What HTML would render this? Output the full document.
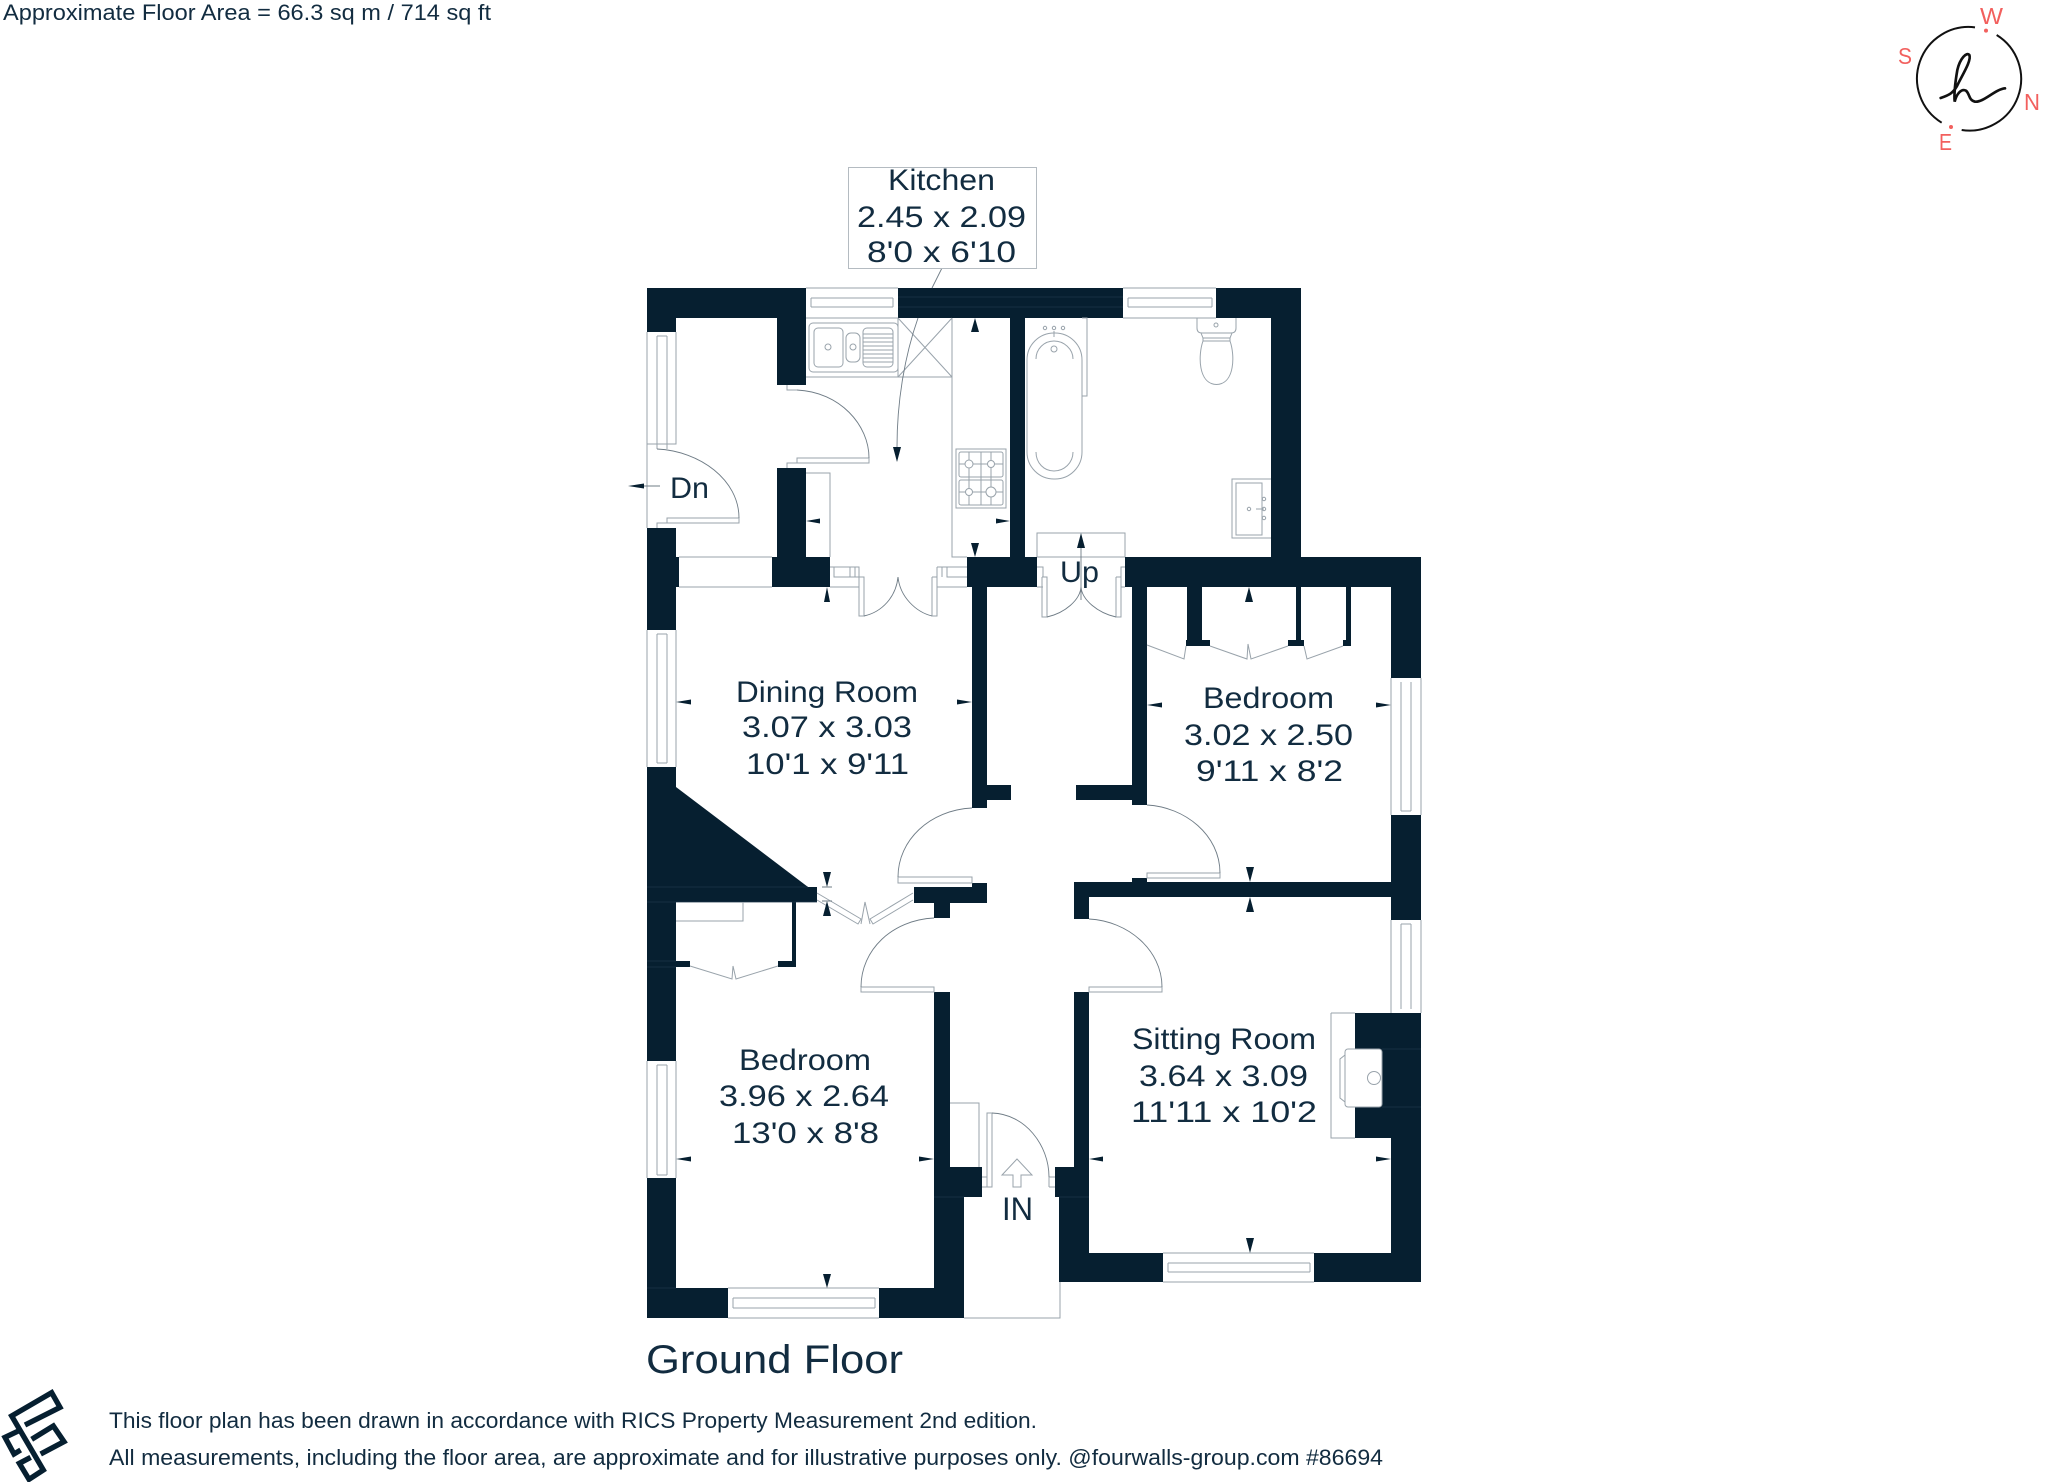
<!DOCTYPE html>
<html><head><meta charset="utf-8"><style>
html,body{margin:0;padding:0;background:#fff}
svg{display:block}
text{font-family:"Liberation Sans",sans-serif;fill:#122c40}
.w{fill:#061f30}
.l{fill:none;stroke:#99a3ab;stroke-width:1}
.d{fill:none;stroke:#6f7c86;stroke-width:.9}
.a{fill:#061f30}
.r{font-size:30px}
</style></head><body>
<svg width="2048" height="1482" viewBox="0 0 2048 1482" xmlns="http://www.w3.org/2000/svg">
<rect width="2048" height="1482" fill="#fff"/>

<!-- walls -->
<g class="w">
<rect x="647" y="288" width="159" height="30"/><rect x="647" y="318" width="29" height="14"/>
<rect x="777" y="318" width="29" height="67"/>
<rect x="898" y="288" width="225" height="30"/>
<rect x="1216" y="288" width="85" height="30"/>
<rect x="1271" y="318" width="30" height="239"/>
<rect x="1010" y="318" width="15" height="239"/>
<rect x="777" y="468" width="29" height="89"/>
<rect x="772" y="557" width="58" height="30"/>
<rect x="967" y="557" width="70" height="30"/>
<rect x="1125" y="557" width="296" height="30"/>
<rect x="647" y="528" width="29" height="29"/><rect x="647" y="557" width="32" height="30"/><rect x="647" y="587" width="29" height="43"/>
<polygon points="647,767 676,767 676,787 808,887 817,887 817,902 647,902"/>
<rect x="647" y="902" width="29" height="159"/>
<rect x="647" y="1178" width="29" height="112"/>
<rect x="647" y="1288" width="81" height="30"/>
<rect x="879" y="1288" width="85" height="30"/>
<rect x="934" y="992" width="16" height="175"/>
<rect x="934" y="1167" width="48" height="30"/>
<rect x="934" y="1197" width="30" height="92"/>
<rect x="972" y="587" width="15" height="221"/>
<rect x="987" y="785" width="24" height="15"/>
<rect x="1076" y="785" width="56" height="15"/>
<rect x="1132" y="587" width="15" height="218"/>
<rect x="1187" y="587" width="15" height="53"/><rect x="1186" y="640" width="24" height="6"/>
<rect x="1296" y="587" width="5" height="53"/><rect x="1288" y="640" width="16" height="6"/>
<rect x="1346" y="587" width="5" height="53"/><rect x="1343" y="640" width="8" height="6"/>
<rect x="1391" y="587" width="30" height="91"/>
<rect x="1391" y="815" width="30" height="105"/>
<rect x="1074" y="882" width="347" height="15"/>
<rect x="1132" y="878" width="15" height="4"/>
<rect x="1074" y="897" width="15" height="22"/>
<rect x="914" y="887" width="73" height="16"/><rect x="972" y="883" width="15" height="4"/>
<rect x="934" y="903" width="16" height="15"/>
<rect x="792" y="902" width="4" height="60"/><rect x="778" y="961" width="18" height="6"/>
<rect x="676" y="961" width="14" height="6"/>
<rect x="1074" y="992" width="15" height="175"/>
<rect x="1055" y="1167" width="34" height="30"/>
<rect x="1059" y="1197" width="30" height="85"/>
<rect x="1059" y="1253" width="104" height="29"/>
<rect x="1314" y="1253" width="107" height="29"/>
<rect x="1391" y="1138" width="30" height="115"/>
<rect x="1355" y="1013" width="66" height="125"/>
</g>
<path d="M898 297H1123M898 307H1123M647 887H808M647 902H817M647 961H676M647 967H676M934 1197H964M647 1288H676M1059 1197H1089M1382 1049H1421M1382 1107H1421" fill="none" stroke="#1c3648" stroke-width=".8"/>

<!-- windows -->
<g class="l">
<path d="M806 288H898M806 318H898M811 298H893M811 307H893M811 298V307M893 298V307"/>
<path d="M1123 288H1216M1123 318H1216M1128 298H1212M1128 307H1212M1128 298V307M1212 298V307"/>
<path d="M647 332V444H676V332M657 336V449M667 336V449M657 336H667M657 444H667"/>
<path d="M679 557H772M679 587H772"/>
<path d="M647 630V767M676 630V767M657 634V763M667 634V763M657 634H667M657 763H667"/>
<path d="M647 1061V1178M676 1061V1178M657 1065V1175M667 1065V1175M657 1065H667M657 1175H667"/>
<path d="M728 1288H879M728 1318H879M733 1298H875M733 1308H875M733 1298V1308M875 1298V1308"/>
<path d="M1163 1253H1314M1163 1282H1314M1168 1263H1310M1168 1272H1310M1168 1263V1272M1310 1263V1272"/>
<path d="M1391 678V815M1421 678V815M1401 682V811M1411 682V811M1401 811H1411"/>
<path d="M1391 920V1013M1421 920V1013M1401 924V1009M1411 924V1009M1401 924H1411"/>
<path d="M647 444V528"/>
</g>

<!-- kitchen -->
<g class="l">
<path d="M806 377H952V318M898 318V377M898 318L952 377M898 377L952 318"/>
<path d="M952 377V557H967"/>
<rect x="809" y="323" width="89" height="49" rx="4"/>
<rect x="814" y="328" width="29" height="39" rx="4"/>
<rect x="846" y="333" width="14" height="29" rx="5"/>
<rect x="863" y="328" width="30" height="39" rx="4"/>
<path d="M863 334H893M863 338H893M863 342H893M863 346H893M863 350H893M863 354H893M863 358H893M863 362H893"/>
<circle cx="828" cy="347" r="3"/><circle cx="853" cy="347" r="3"/>
<rect x="956" y="449" width="50" height="59"/>
<rect x="959" y="452" width="44" height="25" rx="2"/>
<rect x="959" y="480" width="44" height="25" rx="2"/>
<path d="M981 452V505M959 464H1003M959 492H1003M969 452V505M991 452V505"/>
<circle cx="969" cy="464" r="4" fill="#fff"/><circle cx="991" cy="464" r="3.5" fill="#fff"/>
<circle cx="969" cy="492" r="3.5" fill="#fff"/><circle cx="991" cy="492" r="5" fill="#fff"/>
<path d="M806 473H830V557"/>
</g>

<!-- bath etc -->
<g class="l">
<rect x="1027" y="333" width="55" height="146" rx="27"/>
<path d="M1036 359C1036 349 1044 341 1054 341C1064 341 1073 349 1073 359"/>
<path d="M1036 452C1036 463 1044 471 1054 471C1064 471 1073 463 1073 452"/>
<path d="M1082 318H1087V396H1082"/>
<circle cx="1045" cy="328" r="1.7"/><circle cx="1054" cy="328" r="1.7"/><circle cx="1063" cy="328" r="1.7"/>
<circle cx="1054" cy="349" r="3"/><path d="M1054 331V337"/>
<path d="M1197 318V328Q1197 333 1202 333H1231Q1236 333 1236 328V318"/>
<circle cx="1216" cy="325" r="2"/>
<path d="M1201 333L1203 338H1230L1232 333M1203 338V341M1230 338V341"/>
<path d="M1203 341C1198 355 1198 384 1216.500 384.500C1235 384 1235 355 1230 341Z"/>
<path d="M1271 479H1232V538H1271"/>
<rect x="1236" y="483" width="26" height="52"/>
<circle cx="1264" cy="499" r="1.700"/><circle cx="1264" cy="509" r="1.700"/><circle cx="1264" cy="518" r="1.700"/><circle cx="1249" cy="509" r="1.700"/>
<path d="M1256 509H1264"/>
<path d="M1037 557V533H1125V557M1037 557H1125"/>
</g>

<!-- doors -->
<g class="l">
<path d="M787 385V390H797"/><rect x="797" y="458" width="72" height="5"/><path d="M787 468V463H797"/>
<path d="M657 444V449M667 518H739V523H667V518ZM657 528V523H667"/>
<path d="M830 567H859V587H830M834 567V577H850V567M855 567V577M834 577H864M859 577H864V616H859V577"/>
<path d="M932 577V616H937V577H932M937 567H967M937 567V587H967M947 567V577H967M942 567V577"/>
<path d="M1037 567H1043V577M1043 587H1037M1042 577H1047V617H1042V577"/>
<path d="M1125 567H1121V577M1121 587H1125M1116 577H1121V617H1116V577"/>
<rect x="898" y="877" width="74" height="6"/>
<rect x="861" y="987" width="73" height="5"/>
<rect x="1147" y="873" width="73" height="5"/>
<rect x="1089" y="987" width="73" height="5"/>
<path d="M817 893L861 919L858 924L817 900M913 893L870 919L873 924L913 900"/>
<path d="M861 924L865 902L870 924"/>
<path d="M1147 645L1184 659L1186 646M1210 646L1247 659L1248 644L1251 659L1288 646M1304 646L1307 659L1343 646"/>
<path d="M690 966L732 979L733 966L736 979L778 966"/>
<path d="M676 921H743V902"/>
<path d="M987 1113H992V1187H987ZM982 1177H987M982 1187H987"/>
<path d="M1049 1177H1055M1049 1187H1055M1049 1177V1187"/>
<path d="M950 1103H979V1167"/>
<path d="M1331 1013H1355M1331 1013V1138H1355"/>
<path d="M964 1318H1060V1282"/>
<path d="M1017 1159L1002 1175H1013V1187H1021V1175H1032Z"/>
</g>
<g class="d">
<path d="M797 390C840 392 869 425 869 458"/>
<path d="M657 449C700 451 739 480 739 518"/>
<path d="M864 616C882 612 896 597 898 577C900 597 916 612 932 616"/>
<path d="M1047 617C1065 613 1080 600 1081 587C1082 600 1098 613 1116 617"/>
<path d="M972 808C930 810 898 840 898 877"/>
<path d="M934 918C892 920 861 950 861 987"/>
<path d="M1147 805C1185 807 1220 835 1220 873"/>
<path d="M1089 919C1128 921 1162 950 1162 987"/>
<path d="M992 1113C1025 1114 1049 1145 1049 1177"/>
<path d="M942 268L932 288M918 318C905 355 897 400 897 447"/>
</g>

<!-- fireplace -->
<rect x="1345" y="1049" width="37" height="58" rx="3" fill="#fff" stroke="#99a3ab"/>
<path d="M1345 1055L1340 1059V1098L1345 1102" fill="none" stroke="#99a3ab"/>
<circle cx="1374" cy="1078" r="6.500" fill="none" stroke="#99a3ab"/>

<!-- dimension arrows -->
<g class="a">
<polygon points="975,318 971,332 979,332"/>
<polygon points="975,557 971,543 979,543"/>
<polygon points="806,521 820,518.500 820,523.500"/>
<polygon points="1010,521 996,518.500 996,523.500"/>
<polygon points="827,587 824,602 830,602"/>
<polygon points="897,462 893,447 901,447"/>
<polygon points="628,486 644,483.500 644,488.500"/>
<polygon points="1081,533 1077,548 1085,548"/>
<polygon points="676,702 691,699.500 691,704.500"/>
<polygon points="972,702 957,699.500 957,704.500"/>
<polygon points="827,887 823,872 831,872"/>
<polygon points="827,901 823,916 831,916"/>
<polygon points="1147,705 1162,702.500 1162,707.500"/>
<polygon points="1391,705 1376,702.500 1376,707.500"/>
<polygon points="1249,587 1245,602 1253,602"/>
<polygon points="1250,882 1246,867 1254,867"/>
<polygon points="1250,897 1246,912 1254,912"/>
<polygon points="676,1159 691,1156.500 691,1161.500"/>
<polygon points="934,1159 919,1156.500 919,1161.500"/>
<polygon points="827,1288 823,1274 831,1274"/>
<polygon points="1089,1159 1103,1156.500 1103,1161.500"/>
<polygon points="1391,1159 1376,1156.500 1376,1161.500"/>
<polygon points="1250,1253 1246,1238 1254,1238"/>
</g>
<path d="M644 486H660M1081 548V600M822 887H832M822 901H832" class="d"/>

<!-- kitchen label -->
<rect x="848.500" y="167.500" width="188" height="101" fill="#fff" stroke="#b4bbc1"/>
<text class="r" x="888" y="190" textLength="107" lengthAdjust="spacingAndGlyphs">Kitchen</text>
<text class="r" x="857" y="227" textLength="169" lengthAdjust="spacingAndGlyphs">2.45 x 2.09</text>
<text class="r" x="867" y="262" textLength="149" lengthAdjust="spacingAndGlyphs">8'0 x 6'10</text>

<text class="r" x="670" y="498" textLength="39" lengthAdjust="spacingAndGlyphs">Dn</text>
<text class="r" x="1060" y="582" textLength="39" lengthAdjust="spacingAndGlyphs">Up</text>

<text class="r" x="736" y="702" textLength="182" lengthAdjust="spacingAndGlyphs">Dining Room</text>
<text class="r" x="742" y="737" textLength="170" lengthAdjust="spacingAndGlyphs">3.07 x 3.03</text>
<text class="r" x="746" y="774" textLength="163" lengthAdjust="spacingAndGlyphs">10'1 x 9'11</text>

<text class="r" x="1203" y="708" textLength="131" lengthAdjust="spacingAndGlyphs">Bedroom</text>
<text class="r" x="1184" y="745" textLength="169" lengthAdjust="spacingAndGlyphs">3.02 x 2.50</text>
<text class="r" x="1196" y="781" textLength="147" lengthAdjust="spacingAndGlyphs">9'11 x 8'2</text>

<text class="r" x="1132" y="1049" textLength="184" lengthAdjust="spacingAndGlyphs">Sitting Room</text>
<text class="r" x="1139" y="1086" textLength="169" lengthAdjust="spacingAndGlyphs">3.64 x 3.09</text>
<text class="r" x="1131" y="1122" textLength="186" lengthAdjust="spacingAndGlyphs">11'11 x 10'2</text>

<text class="r" x="739" y="1070" textLength="132" lengthAdjust="spacingAndGlyphs">Bedroom</text>
<text class="r" x="719" y="1106" textLength="170" lengthAdjust="spacingAndGlyphs">3.96 x 2.64</text>
<text class="r" x="732" y="1143" textLength="147" lengthAdjust="spacingAndGlyphs">13'0 x 8'8</text>

<text class="r" x="1002" y="1220" font-size="32" style="font-size:32px" textLength="31" lengthAdjust="spacingAndGlyphs">IN</text>

<text x="646" y="1373" font-size="40" textLength="257" lengthAdjust="spacingAndGlyphs">Ground Floor</text>

<text x="3" y="20" font-size="22" textLength="488" lengthAdjust="spacingAndGlyphs">Approximate Floor Area = 66.3 sq m / 714 sq ft</text>
<text x="109" y="1428" font-size="22" textLength="928" lengthAdjust="spacingAndGlyphs">This floor plan has been drawn in accordance with RICS Property Measurement 2nd edition.</text>
<text x="109" y="1465" font-size="22" textLength="1274" lengthAdjust="spacingAndGlyphs">All measurements, including the floor area, are approximate and for illustrative purposes only. @fourwalls-group.com #86694</text>

<!-- compass -->
<g transform="translate(1880,0) scale(.33333)">
<path d="M285 82A155 155 0 0 0 185 368M245 390A155 155 0 0 0 350 105" fill="none" stroke="#111" stroke-width="6"/>
<path d="M182 294C205 286 222 280 235 250C250 220 275 180 268 165C260 155 240 175 232 210C226 245 222 285 224 305C230 280 245 265 258 272C270 282 265 300 285 305C310 308 345 268 375 265" fill="none" stroke="#111" stroke-width="8" stroke-linecap="round"/>
<circle cx="318" cy="92" r="6" fill="#f2605e"/><circle cx="213" cy="381" r="6" fill="#f2605e"/>
</g>
<g font-size="23">
<text x="1980" y="24" style="fill:#f2605e" textLength="23" lengthAdjust="spacingAndGlyphs">W</text>
<text x="1898" y="64" style="fill:#f2605e" textLength="14" lengthAdjust="spacingAndGlyphs">S</text>
<text x="2024" y="110" style="fill:#f2605e" textLength="16" lengthAdjust="spacingAndGlyphs">N</text>
<text x="1939" y="150" style="fill:#f2605e" textLength="13" lengthAdjust="spacingAndGlyphs">E</text>
</g>

<!-- logo -->
<g transform="translate(0,1380) scale(.33333)" fill="none" stroke="#061f30" stroke-width="16" stroke-linejoin="miter">
<path d="M75 135L180 82L155 38L35 108L130 270L87 298L58 250L92 232"/>
<path d="M95 178L160 138L192 185L122 222"/>
<path d="M55 153L15 172L42 222L62 210"/>
</g>
</svg>
</body></html>
